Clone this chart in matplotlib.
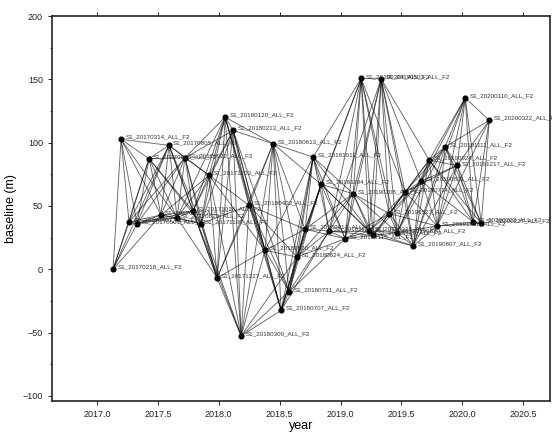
import matplotlib
matplotlib.use("Agg")
import matplotlib.pyplot as plt
from matplotlib.ticker import MultipleLocator, FormatStrFormatter
import pandas as pd
import numpy as np

plt.rcParams['font.family'] = ['Liberation Sans', 'DejaVu Sans']

# acquisition dates and perpendicular baselines (m)
dates = [
    '20170218', '20170314', '20170407', '20170501', '20170606', '20170712',
    '20170805', '20170829', '20170922', '20171016', '20171109', '20171203',
    '20171227', '20180120', '20180213', '20180309', '20180402', '20180520',
    '20180613', '20180707', '20180731', '20180824', '20180917', '20181011',
    '20181104', '20181128', '20190115', '20190208', '20190304', '20190328',
    '20190409', '20190503', '20190527', '20190620', '20190714', '20190807',
    '20190831', '20190924', '20191018', '20191111', '20191217', '20200110',
    '20200203', '20200227', '20200322',
]
baselines = [
    0.0, 102.6, 37.3, 36.0, 87.4, 42.9,
    97.9, 40.8, 88.1, 46.0, 36.0, 74.2,
    -6.9, 120.2, 109.7, -52.6, 50.5, 15.0,
    99.2, -32.4, -17.6, 9.7, 31.6, 88.6,
    67.1, 30.2, 24.2, 59.7, 150.7, 30.2,
    26.8, 150.5, 44.0, 29.0, 61.0, 18.4,
    69.7, 86.3, 34.2, 96.8, 82.0, 135.5,
    37.3, 36.3, 117.6,
]
n_links = 6  # each scene paired with the next few scenes

t = pd.to_datetime(dates, format='%Y%m%d')
years = np.array(t.year + (t.dayofyear - 1) / 365.25)
bperp = np.array(baselines)

fig = plt.figure(figsize=(5.52, 4.32), dpi=100)
ax = fig.add_axes([0.0942, 0.0718, 0.902, 0.891])

# ── interferogram pairs ──
for i in range(len(years)):
    for j in range(i + 1, min(i + 1 + n_links, len(years))):
        ax.plot([years[i], years[j]], [bperp[i], bperp[j]],
                color='k', lw=0.65, alpha=0.6, zorder=1)

ax.plot(years, bperp, 'o', color='k', ms=3.4, zorder=3)

for yr, b, d in zip(years, bperp, dates):
    ax.annotate(f'S1_{d}_ALL_F2', (yr, b), xytext=(3, 1.5),
                textcoords='offset points', fontsize=4.5,
                color='#333333', va='center', ha='left', zorder=4)

ax.set_xlim(2016.63, 2020.72)
ax.set_ylim(-104, 200)
ax.xaxis.set_major_locator(MultipleLocator(0.5))
ax.xaxis.set_major_formatter(FormatStrFormatter('%.1f'))
ax.yaxis.set_major_locator(MultipleLocator(50))
ax.yaxis.set_minor_locator(MultipleLocator(25))

ax.tick_params(which='major', direction='out', length=3, width=0.7,
               labelsize=6.5, colors='#222222', top=True)
ax.tick_params(which='minor', direction='out', length=1.8, width=0.6,
               colors='#222222')
for s in ax.spines.values():
    s.set_linewidth(1.2)
    s.set_color('#222222')

ax.set_xlabel('year', fontsize=9, labelpad=1)
ax.set_ylabel('baseline (m)', fontsize=9, labelpad=4)

fig.savefig('out.png', dpi=100)
